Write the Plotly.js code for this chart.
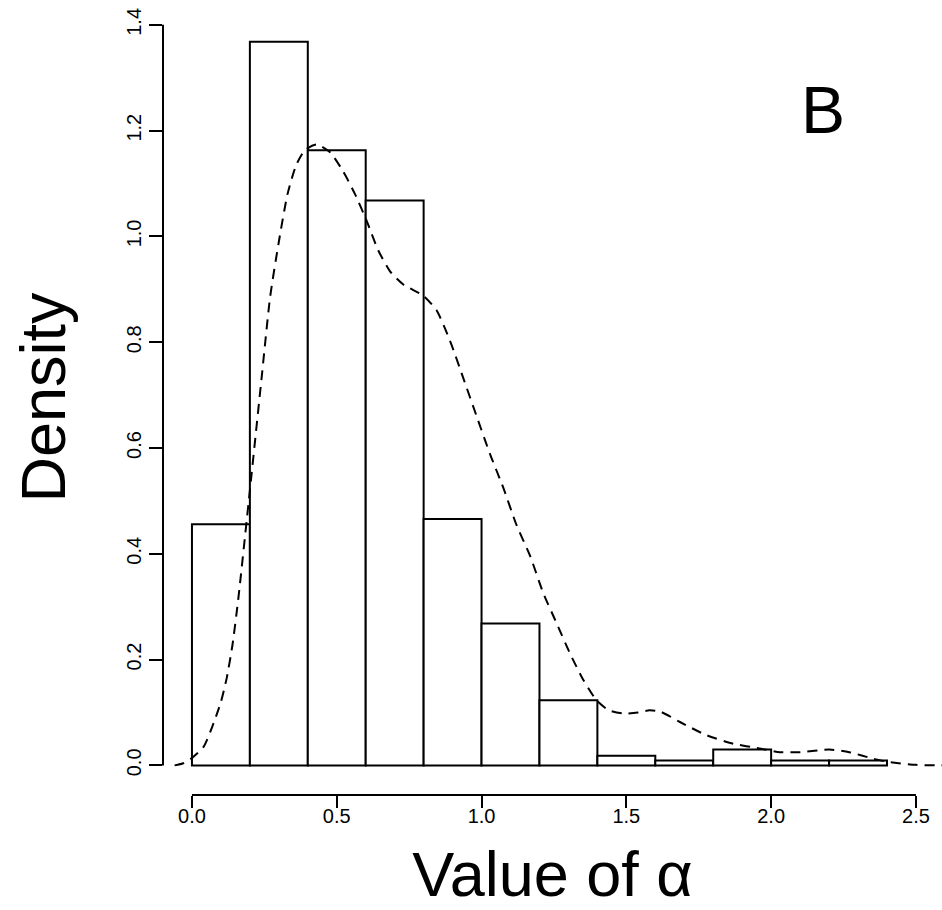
<!DOCTYPE html>
<html>
<head>
<meta charset="utf-8">
<script src="https://cdn.plot.ly/plotly-3.0.1.min.js"></script>
<style>html,body{margin:0;padding:0;background:#fff;}#chart{width:942px;height:910px;}</style>
</head>
<body>
<div id="chart"></div>
<script>
// Histogram bins (density), bin width 0.2
var binCenters = [0.1, 0.3, 0.5, 0.7, 0.9, 1.1, 1.3, 1.5, 1.7, 1.9, 2.1, 2.3];
var binDensity = [0.456, 1.368, 1.163, 1.068, 0.466, 0.268, 0.123, 0.018, 0.009, 0.030, 0.009, 0.009];
var binWidth = 0.2;

// Kernel density estimate (dashed curve)
var densX = [-0.06, -0.03, 0.0, 0.04, 0.07, 0.10, 0.12, 0.14, 0.16, 0.20, 0.24, 0.27, 0.30, 0.33, 0.36, 0.39, 0.43,
  0.477, 0.522, 0.563, 0.603, 0.643, 0.684, 0.73, 0.799, 0.845, 0.891, 0.937, 0.983, 1.029, 1.075, 1.121, 1.167,
  1.213, 1.259, 1.305, 1.351, 1.397, 1.44, 1.49, 1.54, 1.58, 1.62, 1.685, 1.777, 1.869, 1.96, 2.03, 2.1, 2.2,
  2.27, 2.35, 2.40, 2.5, 2.6];
var densY = [0.000, 0.004, 0.014, 0.035, 0.073, 0.120, 0.165, 0.228, 0.315, 0.52, 0.73, 0.886, 0.99, 1.08, 1.135, 1.163, 1.174,
  1.159, 1.123, 1.080, 1.030, 0.974, 0.934, 0.909, 0.888, 0.860, 0.803, 0.732, 0.660, 0.589, 0.525, 0.454, 0.397,
  0.326, 0.269, 0.212, 0.162, 0.123, 0.104, 0.098, 0.100, 0.104, 0.101, 0.082, 0.057, 0.041, 0.032, 0.025, 0.025, 0.030,
  0.025, 0.013, 0.007, 0.001, 0.000];

var xTicks = [0, 0.5, 1.0, 1.5, 2.0, 2.5];
var yTicks = [0, 0.2, 0.4, 0.6, 0.8, 1.0, 1.2, 1.4];

var FONT = 'Liberation Sans, Arial, Helvetica, sans-serif';

var traces = [
  {
    type: 'bar',
    x: binCenters,
    y: binDensity,
    width: binCenters.map(function(){return binWidth;}),
    marker: {color: '#ffffff', line: {color: '#000000', width: 2}},
    hoverinfo: 'x+y',
    showlegend: false
  },
  {
    type: 'scatter',
    mode: 'lines',
    x: densX,
    y: densY,
    line: {color: '#000000', width: 2, dash: '10px,7px', shape: 'spline', smoothing: 0.6},
    showlegend: false
  }
];

var layout = {
  width: 942,
  height: 910,
  margin: {l: 163, r: 0, t: 0, b: 115},
  paper_bgcolor: '#ffffff',
  plot_bgcolor: '#ffffff',
  bargap: 0,
  font: {family: FONT, color: '#000000'},
  xaxis: {
    range: [-0.1, 2.59],
    tickvals: xTicks,
    tickformat: '.1f',
    ticks: 'outside',
    ticklen: 12,
    tickwidth: 2,
    tickcolor: '#000000',
    ticklabelstandoff: -9,
    showline: false,
    zeroline: false,
    showgrid: false,
    tickfont: {family: FONT, size: 20, color: '#000000'},
    title: {text: 'Value of α', font: {family: FONT, size: 63, color: '#000000'}, standoff: 25}
  },
  yaxis: {
    range: [-0.056, 1.447],
    tickvals: yTicks,
    tickformat: '.1f',
    ticks: 'outside',
    ticklen: 13,
    tickwidth: 2,
    tickcolor: '#000000',
    tickangle: -90,
    showline: false,
    zeroline: false,
    showgrid: false,
    tickfont: {family: FONT, size: 20, color: '#000000'},
    title: {text: 'Density', font: {family: FONT, size: 63, color: '#000000'}, standoff: 36}
  },
  shapes: [
    {type: 'line', xref: 'x', yref: 'paper', x0: 0, x1: 2.5, y0: 0, y1: 0, line: {color: '#000000', width: 2}},
    {type: 'line', xref: 'paper', yref: 'y', x0: 0, x1: 0, y0: 0, y1: 1.4, line: {color: '#000000', width: 2}}
  ],
  annotations: [
    {text: 'B', xref: 'x', yref: 'y', x: 2.179, y: 1.239, showarrow: false,
     xanchor: 'center', yanchor: 'middle', font: {family: FONT, size: 66, color: '#000000'}}
  ]
};

Plotly.newPlot('chart', traces, layout, {displayModeBar: false, staticPlot: true});
</script>
</body>
</html>
